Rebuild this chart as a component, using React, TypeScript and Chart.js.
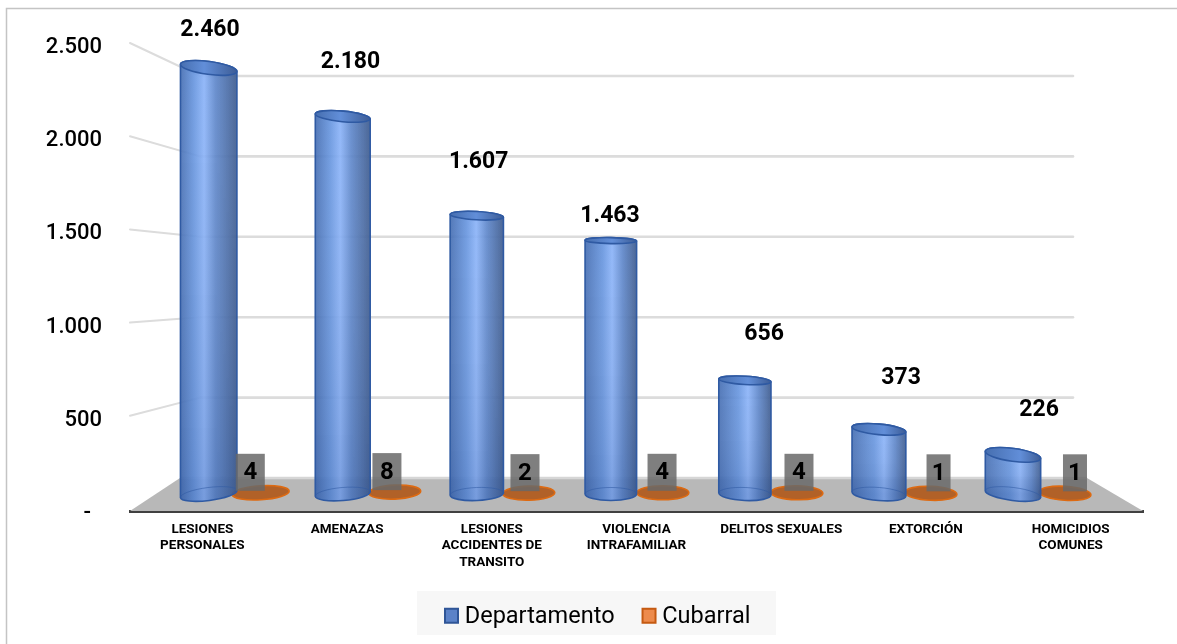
import React, { useEffect, useRef } from "react";
import { Chart, registerables } from "chart.js";

Chart.register(...registerables);

const categories: (string | string[])[] = [
  ["LESIONES", "PERSONALES"],
  "AMENAZAS",
  ["LESIONES", "ACCIDENTES DE", "TRANSITO"],
  ["VIOLENCIA", "INTRAFAMILIAR"],
  "DELITOS SEXUALES",
  "EXTORCIÓN",
  ["HOMICIDIOS", "COMUNES"],
];
const departamento = [2460, 2180, 1607, 1463, 656, 373, 226];
const cubarral = [4, 8, 2, 4, 4, 1, 1];
const yTicks = [0, 500, 1000, 1500, 2000, 2500];

// label nudges (style only)
const blueLabelDx = [1.3, 7.8, 1.9, -0.8, 19.2, 22.1, 26.1];
const blueLabelDy = [-40.3, -56.4, -55.7, -26.6, -48.4, -53.4, -46.9];
const orangeLabelDx = [-10.4, -7.8, -3.8, -0.8, 2.1, 7.6, 10];

const fmt = (v: number) => String(v).replace(/\B(?=(\d{3})+$)/g, ".");
const FONT = "Roboto, sans-serif";

const deg = (d: number) => (d * Math.PI) / 180;

function cylinder(ctx: any, i: number, x: number, top: number, base: number, blue: boolean) {
  const d = Math.abs(i - 3);
  const rx = (blue ? 51 + 1.8 * Math.abs(i - 3.3) : 52 + Math.max(0, 1 - i) * 5) / 2;
  const ryTop = blue ? 3 + 1.15 * d : 7;
  const ryBase = blue ? 6.5 : 7;
  const tiltTop = deg(blue ? d * 2.2 + 1 : (i - 3) * 1.2);
  const tiltBase = deg(blue ? (i - 3) * 2.4 : (i - 3) * 1.2);
  const lx = (cy: number, t: number) => [x - rx * Math.cos(t), cy - rx * Math.sin(t)];
  const rxp = (cy: number, t: number) => [x + rx * Math.cos(t), cy + rx * Math.sin(t)];

  if (!blue) {
    const cy = top - 0.5;
    ctx.beginPath();
    ctx.ellipse(x, cy, rx, ryTop, tiltTop, 0, Math.PI * 2);
    ctx.fillStyle = "rgba(176,92,32,0.95)";
    ctx.fill();
    ctx.lineWidth = 1.6;
    ctx.strokeStyle = "#dd6a12";
    ctx.stroke();
    return;
  }

  const light = 0.42 + 0.035 * i;
  const g = ctx.createLinearGradient(x - rx, 0, x + rx, 0);
  g.addColorStop(0, "rgba(62,104,175,0.92)");
  g.addColorStop(Math.max(0.05, light - 0.18), "rgba(98,146,222,0.92)");
  g.addColorStop(light, "rgba(134,176,248,0.92)");
  g.addColorStop(Math.min(0.95, light + 0.2), "rgba(88,130,200,0.92)");
  g.addColorStop(1, "rgba(58,88,140,0.95)");

  const [tlx, tly] = lx(top, tiltTop);
  const [blx, bly] = lx(base, tiltBase);
  const [trx, try_] = rxp(top, tiltTop);

  const body = () => {
    ctx.beginPath();
    ctx.moveTo(tlx, tly);
    ctx.lineTo(blx, bly);
    ctx.ellipse(x, base, rx, ryBase, tiltBase, Math.PI, 0, true);
    ctx.lineTo(trx, try_);
    ctx.ellipse(x, top, rx, ryTop, tiltTop, 0, Math.PI, true);
    ctx.closePath();
  };
  body();
  ctx.fillStyle = g;
  ctx.fill();
  const v = ctx.createLinearGradient(0, top, 0, base);
  v.addColorStop(0, "rgba(255,255,255,0.04)");
  v.addColorStop(1, "rgba(50,80,140,0.2)");
  ctx.fillStyle = v;
  ctx.fill();
  ctx.lineWidth = 1.6;
  ctx.strokeStyle = "#2f5aa3";
  ctx.stroke();

  // visible rear rim of the base
  ctx.beginPath();
  ctx.ellipse(x, base, rx, ryBase, tiltBase, Math.PI, 0, false);
  ctx.lineWidth = 1;
  ctx.strokeStyle = "rgba(47,90,163,0.55)";
  ctx.stroke();

  // top cap
  ctx.beginPath();
  ctx.ellipse(x, top, rx, ryTop, tiltTop, 0, Math.PI * 2);
  const c = ctx.createLinearGradient(x - rx, 0, x + rx, 0);
  c.addColorStop(0, "rgba(70,110,175,0.95)");
  c.addColorStop(light, "rgba(95,140,215,0.95)");
  c.addColorStop(1, "rgba(60,92,150,0.95)");
  ctx.fillStyle = c;
  ctx.fill();
  ctx.lineWidth = 1.6;
  ctx.strokeStyle = "#2f5aa3";
  ctx.stroke();
}

const scenery = {
  id: "scenery",
  afterLayout(chart: any) {
    chart.legend.left = 417;
    chart.legend.top = 578;
  },
  beforeDraw(chart: any) {
    const { ctx } = chart;
    ctx.save();
    ctx.strokeStyle = "#c4c4c4";
    ctx.lineWidth = 1.5;
    ctx.beginPath();
    ctx.moveTo(6.5, 644);
    ctx.lineTo(6.5, 8.5);
    ctx.lineTo(1177, 8.5);
    ctx.stroke();
    ctx.fillStyle = "#f7f7f7";
    ctx.fillRect(417, 591, 359, 44);
    ctx.restore();
  },
  beforeDatasetsDraw(chart: any) {
    const { ctx, chartArea, scales } = chart;
    const { y, yw } = scales;
    const backY = yw.getPixelForValue(0);
    ctx.save();
    ctx.beginPath();
    ctx.moveTo(chartArea.left, y.getPixelForValue(0));
    ctx.lineTo(180, backY);
    ctx.lineTo(1087, backY);
    ctx.lineTo(chartArea.right, y.getPixelForValue(0));
    ctx.closePath();
    ctx.fillStyle = "#b8b8b8";
    ctx.fill();
    ctx.beginPath();
    ctx.moveTo(180, backY);
    ctx.lineTo(1087, backY);
    ctx.strokeStyle = "#d6d6d6";
    ctx.lineWidth = 2.5;
    ctx.stroke();
    ctx.strokeStyle = "#dcdcdc";
    ctx.lineCap = "round";
    yTicks.filter((t) => t > 0).forEach((t) => {
      const wy = yw.getPixelForValue(t);
      ctx.lineWidth = 2;
      ctx.beginPath();
      ctx.moveTo(chartArea.left, y.getPixelForValue(t) - 2);
      ctx.lineTo(200, wy);
      ctx.stroke();
      ctx.lineWidth = 2.6;
      ctx.beginPath();
      ctx.moveTo(200, wy);
      ctx.lineTo(1073, wy);
      ctx.stroke();
    });
    ctx.restore();
  },
  beforeDatasetDraw(chart: any, args: any) {
    const meta = args.meta;
    const blue = args.index === 0;
    const { ctx } = chart;
    ctx.save();
    meta.data.forEach((el: any, i: number) => {
      cylinder(ctx, i, el.x, el.y, el.base, blue);
    });
    ctx.restore();
    return false;
  },
  afterDatasetsDraw(chart: any) {
    const { ctx } = chart;
    ctx.save();
    ctx.textAlign = "center";
    ctx.textBaseline = "middle";
    const blue = chart.getDatasetMeta(0).data;
    const orange = chart.getDatasetMeta(1).data;
    orange.forEach((el: any, i: number) => {
      const text = fmt(cubarral[i]);
      const w = text === "1" ? 24 : 29;
      const cx = el.x + orangeLabelDx[i];
      const cy = el.y - 21;
      ctx.fillStyle = "rgba(105,105,105,0.85)";
      ctx.fillRect(cx - w / 2, cy - 18.5, w, 37);
      ctx.fillStyle = "#000";
      ctx.font = `700 24px ${FONT}`;
      ctx.fillText(text, cx, cy + 1);
    });
    ctx.font = `700 23px ${FONT}`;
    ctx.fillStyle = "#000";
    blue.forEach((el: any, i: number) => {
      ctx.fillText(fmt(departamento[i]), el.x + blueLabelDx[i], el.y + blueLabelDy[i] + 2.5);
    });
    ctx.restore();
  },
  afterDraw(chart: any) {
    const { ctx, legend } = chart;
    ctx.save();
    const styles = [
      ["#5b82c8", "#2f5597"],
      ["#ed8b4c", "#c55a11"],
    ];
    legend.legendHitBoxes.forEach((b: any, i: number) => {
      const cy = b.top + b.height / 2 - 1;
      ctx.fillStyle = "#f7f7f7";
      ctx.fillRect(b.left - 1, cy - 10, 18, 20);
      ctx.fillStyle = styles[i][0];
      ctx.strokeStyle = styles[i][1];
      ctx.lineWidth = 2;
      ctx.fillRect(b.left + 1, cy - 7, 13, 14);
      ctx.strokeRect(b.left + 1, cy - 7, 13, 14);
    });
    ctx.restore();
  },
};

export default function App() {
  const ref = useRef<HTMLCanvasElement>(null);
  useEffect(() => {
    const chart = new Chart(ref.current as HTMLCanvasElement, {
      type: "bar",
      data: {
        labels: categories as any,
        datasets: [
          {
            label: "Departamento",
            data: departamento.map((v, i) => ({ x: i, y: v })) as any,
            backgroundColor: "#5b82c8",
            borderColor: "#2f5597",
            borderWidth: 1,
            xAxisID: "xb",
            yAxisID: "yb",
          },
          {
            label: "Cubarral",
            data: cubarral.map((v, i) => ({ x: i, y: v })) as any,
            backgroundColor: "#ed8b4c",
            borderColor: "#c55a11",
            borderWidth: 1,
            xAxisID: "xb",
            yAxisID: "yb",
          },
        ],
      },
      plugins: [scenery as any],
      options: {
        animation: false,
        responsive: false,
        barThickness: 52,
        layout: { padding: { top: 45, right: 34, left: 0, bottom: 0 } },
        plugins: {
          tooltip: { enabled: false },
          title: { display: false },
          legend: {
            position: "bottom",
            align: "start",
            labels: {
              boxWidth: 9,
              boxHeight: 15,
              padding: 27,
              color: "#000",
              font: { family: FONT, size: 23.5, weight: "400" },
            },
          },
        },
        scales: {
          x: {
            type: "category",
            position: "bottom",
            offset: true,
            grid: { display: false },
            border: { display: true, color: "#404040", width: 3 },
            ticks: {
              autoSkip: false,
              maxRotation: 0,
              minRotation: 0,
              padding: 3,
              color: "#000",
              font: { family: FONT, size: 13.5, weight: "700", lineHeight: 1.19 },
            },
            afterFit(s: any) {
              s.height = 133 - s.chart.legend.height;
            },
          },
          y: {
            type: "linear",
            position: "left",
            min: 0,
            max: 2500,
            grid: { display: false },
            border: { display: false },
            ticks: {
              stepSize: 500,
              padding: 20,
              labelOffset: 2.5,
              color: "#000",
              font: { family: FONT, size: 22, weight: "500" },
              callback: (v: any) => (v === 0 ? "-  " : fmt(v)),
            },
            afterFit(s: any) {
              s.width = 130;
            },
          },
          xb: {
            type: "linear",
            display: false,
            offset: false,
            position: "bottom",
            min: -0.781,
            max: 6.776,
            grid: { display: false },
          },
          yb: {
            type: "linear",
            display: false,
            position: "left",
            min: -98.2,
            max: 2592.4,
            grid: { display: false },
          },
          yw: {
            type: "linear",
            display: false,
            position: "left",
            min: -205.2,
            max: 2692.8,
            grid: { display: false },
          },
        },
      } as any,
    });
    return () => chart.destroy();
  }, []);
  return (
    <div style={{ position: "absolute", left: 0, top: 0, width: 1177, height: 644, background: "#fff" }}>
      <canvas ref={ref} width={1177} height={644} style={{ display: "block" }} />
    </div>
  );
}
